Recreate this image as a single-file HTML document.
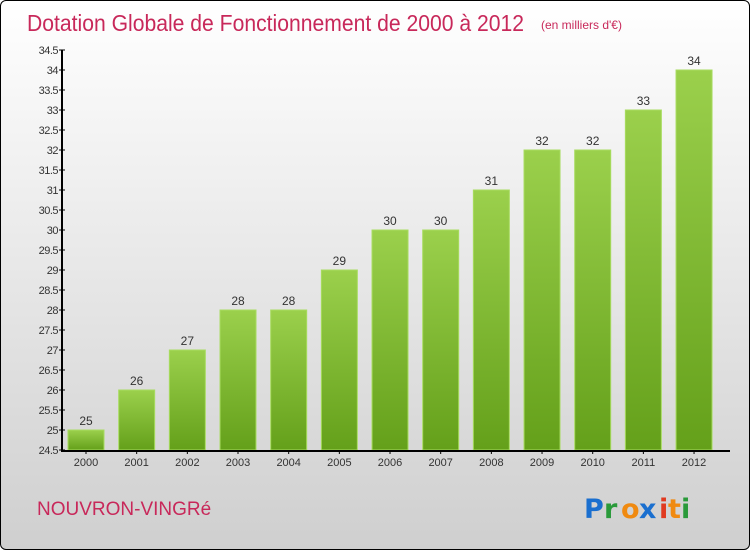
<!DOCTYPE html>
<html><head><meta charset="utf-8"><style>
body{margin:0}
#wrap{position:relative;width:748px;height:548px;border:1px solid #000;border-radius:6px;overflow:hidden;background:linear-gradient(#ffffff,#cfcfcf);font-family:"Liberation Sans",sans-serif}
</style></head><body>
<div id="wrap">
<svg id="c" width="748" height="548">
<defs><linearGradient id="g" x1="0" y1="0" x2="0" y2="1"><stop offset="0" stop-color="#9bd04c"/><stop offset="1" stop-color="#64a01a"/></linearGradient></defs>
<text x="26" y="30" font-size="23" fill="#c8285a" textLength="497" lengthAdjust="spacingAndGlyphs">Dotation Globale de Fonctionnement de 2000 à 2012</text>
<text x="540" y="28" font-size="12" fill="#c8285a">(en milliers d'€)</text>
<text x="36" y="514" font-size="19" fill="#c8285a">NOUVRON-VINGRé</text>
<g font-size="27" font-weight="bold" font-family="'DejaVu Sans',sans-serif">
<text x="583" y="517" fill="#1a6fcf">P</text><text x="603" y="517" fill="#2a9a3a">r</text><text x="620" y="517" fill="#f08a10">o</text><text x="638" y="517" fill="#1a6fcf">x</text><text x="658" y="517" fill="#e03a20">i</text><text x="667" y="517" fill="#f08a10">t</text><text x="680" y="517" fill="#2a9a3a">i</text></g>
<g id="plot"></g>
</svg></div>
<script>
const years=["2000","2001","2002","2003","2004","2005","2006","2007","2008","2009","2010","2011","2012"];
const values=[25,26,27,28,28,29,30,30,31,32,32,33,34];
const yTicks=[24.5,25,25.5,26,26.5,27,27.5,28,28.5,29,29.5,30,30.5,31,31.5,32,32.5,33,33.5,34,34.5];
const NS="http://www.w3.org/2000/svg",p=document.getElementById('plot');
const y=v=>449-(v-24.5)*40, x=i=>85+i*50.67;
function el(t,a,par){const e=document.createElementNS(NS,t);for(const k in a)e.setAttribute(k,a[k]);(par||p).appendChild(e);return e;}
yTicks.forEach(v=>{
 const t=el('text',{x:57,y:y(v)+4,'font-size':11,fill:'#333','text-anchor':'end','letter-spacing':'-0.5'});t.textContent=String(v);
 
 
 el('line',{x1:58,x2:64,y1:y(v),y2:y(v),stroke:'#000'});
});
values.forEach((v,i)=>{
 const r=el('rect',{x:x(i)-18,y:y(v),width:36,height:449-y(v),fill:'url(#g)',stroke:'#a8dc60','stroke-width':1});
 
 
 const t=el('text',{x:x(i),y:y(v)-5,'font-size':12,fill:'#333','text-anchor':'middle'});t.textContent=v;
 
 
 const l=el('text',{x:x(i),y:465,'font-size':11,fill:'#333','text-anchor':'middle'});l.textContent=years[i];
 
 
 el('line',{x1:x(i),x2:x(i),y1:449,y2:453,stroke:'#000'});
});
const ya=el('line',{x1:61,x2:61,y1:49,y2:450,stroke:'#000','stroke-width':2});


const xa=el('line',{x1:60,x2:729,y1:450,y2:450,stroke:'#000','stroke-width':2});


</script>
</body></html>
